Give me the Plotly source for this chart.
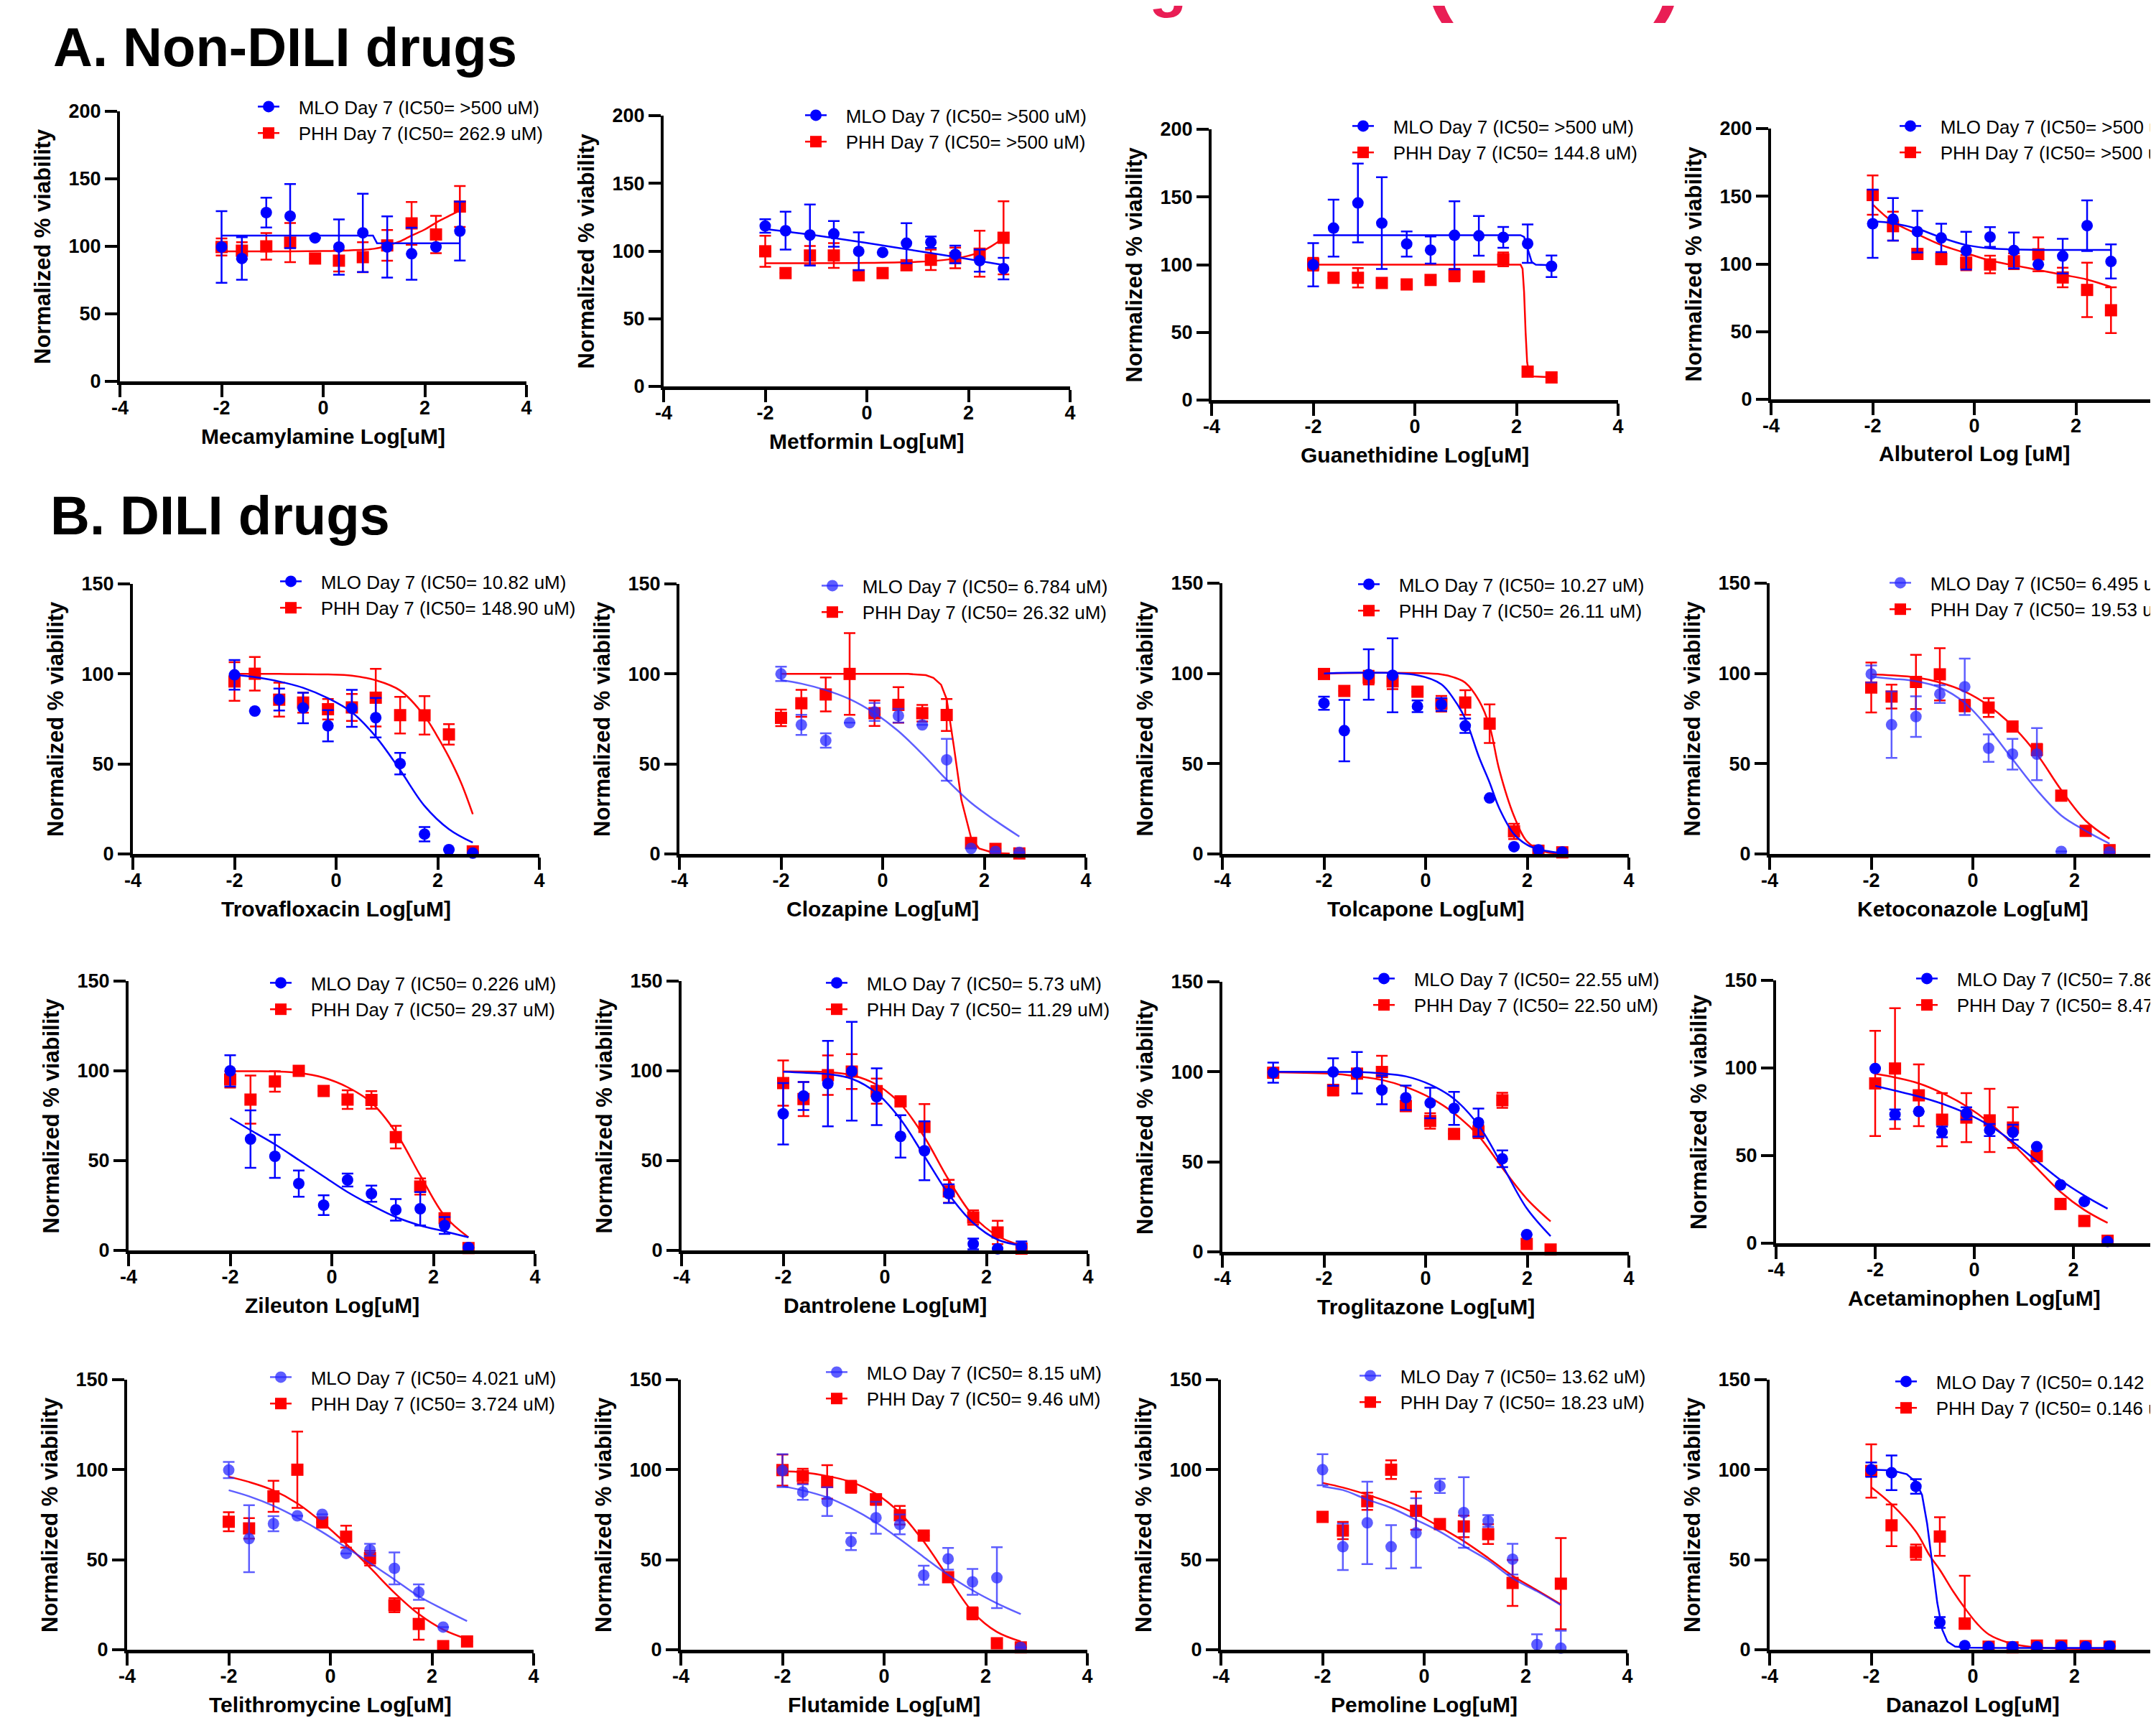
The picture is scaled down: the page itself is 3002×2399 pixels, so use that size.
import plotly.graph_objects as go

W, H = 3002, 2399
BLUE = "rgb(0,0,255)"
BLUE_LIGHT = "rgba(40,40,255,0.75)"
RED = "rgb(255,0,0)"
PINK = "#E91E55"
FONT = "Liberation Sans, Arial, sans-serif"

# ---------------- data ----------------
X_STD = [-2, -1.6, -1.12, -0.65, -0.16, 0.31, 0.78, 1.26, 1.74, 2.22, 2.69]
X_TROG = [-3, -1.82, -1.35, -0.86, -0.39, 0.09, 0.56, 1.04, 1.51, 1.99, 2.46]

DRUG_TITLES = ["Mecamylamine Log[uM]", "Metformin Log[uM]", "Guanethidine Log[uM]", "Albuterol Log [uM]",
               "Trovafloxacin Log[uM]", "Clozapine Log[uM]", "Tolcapone Log[uM]", "Ketoconazole Log[uM]",
               "Zileuton Log[uM]", "Dantrolene Log[uM]", "Troglitazone Log[uM]", "Acetaminophen Log[uM]",
               "Telithromycine Log[uM]", "Flutamide Log[uM]", "Pemoline Log[uM]", "Danazol Log[uM]"]
MLO_IC50 = [">500", ">500", ">500", ">500", "10.82", "6.784", "10.27", "6.495",
            "0.226", "5.73", "22.55", "7.86", "4.021", "8.15", "13.62", "0.142"]
PHH_IC50 = ["262.9", ">500", "144.8", ">500", "148.90", "26.32", "26.11", "19.53",
            "29.37", "11.29", "22.50", "8.47", "3.724", "9.46", "18.23", "0.146"]
Y_MAX = [200, 200, 200, 200] + [150] * 12
Y_TICKS_A = [0, 50, 100, 150, 200]
Y_TICKS_B = [0, 50, 100, 150]
X_TICKS = [-4, -2, 0, 2, 4]
X_TICK_TEXT = ["-4", "-2", "0", "2", "4"]

# A1 Mecamylamine
MECA_MLO = [99.5, 91, 125, 122.4, 106.3, 99.5, 110, 99.5, 94.5, 99.6, 111.3]
MECA_MLO_SD = [26.5, 15.8, 11, 23.7, 0, 20.5, 29, 22.7, 19.3, 0, 21.8]
MECA_PHH = [99.5, 96.8, 100, 102.8, 91, 89.4, 92, 100.7, 117, 108.8, 129.5]
MECA_PHH_SD = [6.3, 6.2, 9.9, 14.5, 0, 8, 11.1, 11.4, 15.8, 13.8, 15.2]
MECA_MLO_FIT_X = [-2, 0.98, 1.06, 2.69]
MECA_MLO_FIT = [108, 108, 102.3, 102.3]
MECA_PHH_FIT_X = [-2, -1, 0, 0.5, 1.0, 1.26, 1.5, 1.74, 2.0, 2.22, 2.45, 2.69]
MECA_PHH_FIT = [96.3, 96.3, 96.5, 97, 98.2, 100.5, 103.5, 108, 112.5, 117.5, 122, 126.5]

# A2 Metformin
METF_MLO = [118.5, 115, 111.8, 112.7, 99.8, 99, 105.8, 106.5, 97.5, 92.9, 87]
METF_MLO_SD = [5, 14, 22.5, 9.5, 14, 0, 14.8, 4.3, 6.5, 8.2, 8]
METF_PHH = [99.8, 83.7, 96.7, 96.7, 82.1, 83.7, 89.5, 93.5, 94.9, 98, 109.8]
METF_PHH_SD = [11.5, 0, 7, 9.2, 0, 0, 2.9, 7.5, 7.6, 17, 27]
METF_MLO_FIT_X = [-2, -1, 0, 1, 2, 2.69]
METF_MLO_FIT = [116.3, 111.5, 106, 100, 94, 89.7]
METF_PHH_FIT_X = [-2, 0, 1, 1.5, 1.74, 2.0, 2.22, 2.45, 2.69]
METF_PHH_FIT = [91, 91.2, 92, 93.3, 94.5, 96.5, 99, 103.5, 109.5]

# A3 Guanethidine
GUAN_MLO = [99.9, 127, 145.6, 130.7, 115.3, 110.8, 121.7, 121.3, 120.2, 115.5, 98.8]
GUAN_MLO_SD = [16, 21, 29.1, 33.9, 9.3, 10, 25.1, 14.7, 7.7, 14.2, 7.9]
GUAN_PHH = [100.3, 90.3, 90.3, 86.5, 85.4, 88.7, 92.3, 91.2, 103.9, 21, 16.7]
GUAN_PHH_SD = [4.7, 0, 7.2, 0, 0, 0, 4.7, 0, 5.1, 0, 0]
GUAN_MLO_FIT_X = [-2, 2.08, 2.15, 2.22, 2.3, 2.38, 2.69]
GUAN_MLO_FIT = [121.8, 121.8, 120.5, 112, 102, 100, 99.6]
GUAN_PHH_FIT_X = [-2, 2.08, 2.12, 2.15, 2.18, 2.21, 2.25, 2.3, 2.69]
GUAN_PHH_FIT = [100, 100, 97, 80, 50, 28, 19.5, 17.5, 16.8]

# A4 Albuterol
ALBU_MLO = [129.7, 133, 123.9, 119.2, 109.8, 119.9, 110, 99.6, 105.8, 128.3, 101.8]
ALBU_MLO_SD = [25.2, 15.7, 15.4, 10.5, 13.9, 7.3, 13.2, 0, 12.8, 18.7, 12.6]
ALBU_PHH = [150.9, 127.9, 107.4, 103.8, 100.9, 99.6, 102, 107.1, 90, 80.8, 65.8]
ALBU_PHH_SD = [14.5, 10.7, 3.5, 4, 5.6, 6.5, 5.8, 12.5, 7.2, 20.1, 16.9]
ALBU_MLO_FIT_X = [-2, -1.6, -1.12, -0.65, -0.16, 0.31, 0.78, 1.26, 2.69]
ALBU_MLO_FIT = [131.5, 130, 126, 119.5, 114, 111.5, 110.7, 110.4, 110.3]
ALBU_PHH_FIT = [144, 131, 122, 114, 108, 102.5, 99, 95.5, 92, 88.5, 83]

# B1 Trovafloxacin
TROV_MLO = [99.5, 79.4, 85.8, 81.1, 71.2, 80.9, 75.7, 50.2, 11, 2.4, 0.5]
TROV_MLO_SD = [8.2, 0, 6.1, 8.5, 8.7, 10.3, 11, 6, 4, 0, 0]
TROV_PHH = [95.8, 100.1, 85.7, 84.1, 80.4, 81.4, 86.8, 77.1, 77, 66.4, 1.4]
TROV_PHH_SD = [10.7, 9.3, 9.4, 5.6, 5.7, 7.5, 16, 10.2, 10.7, 5.7, 0]
TROV_MLO_FIT = [99.5, 98.2, 95.8, 92.3, 86.5, 78.7, 65.2, 46.6, 26.7, 13.8, 6.3]
TROV_PHH_FIT_X = [-2, -1.12, -0.16, 0.31, 0.78, 1.26, 1.74, 1.98, 2.22, 2.46, 2.69]
TROV_PHH_FIT = [100, 100, 99.7, 99, 96.5, 90.8, 76.6, 65.9, 53.8, 39.5, 22.1]

# B2 Clozapine
CLOZ_MLO = [100, 71.7, 63, 72.9, 78.9, 76.8, 71.7, 52.3, 3.1, 1.4, 0.9]
CLOZ_MLO_SD = [4, 5.6, 4, 0, 5, 3.8, 0, 11.6, 0, 0, 0]
CLOZ_PHH = [75.6, 83.7, 88.6, 100, 78.2, 82.8, 78.2, 77.2, 6.1, 2.8, 0.3]
CLOZ_PHH_SD = [4.6, 7.5, 9.4, 22.7, 7.1, 9.9, 4.6, 8.9, 2.4, 0, 0]
CLOZ_MLO_FIT = [96.5, 94.6, 91, 86, 78.2, 68.2, 55.5, 41.2, 28.4, 18.5, 9.7]
CLOZ_PHH_FIT_X = [-2, 0.5, 0.85, 1.0, 1.15, 1.26, 1.4, 1.55, 1.74, 1.9, 2.2, 2.5]
CLOZ_PHH_FIT = [100, 100, 99.3, 97.8, 94, 86, 60, 30, 9, 3, 0.5, 0.2]

# B3 Tolcapone
TOLC_MLO = [83.5, 68.3, 99.4, 99, 81.8, 82.8, 71, 31, 4, 2.3, 1.1]
TOLC_MLO_SD = [3.6, 17, 14, 20.5, 3.2, 3.5, 4, 0, 0, 0, 0]
TOLC_PHH = [99.7, 90.3, 97.7, 95.6, 89.9, 83.2, 83.9, 72.2, 12.5, 1.8, 0.9]
TOLC_PHH_SD = [0, 0, 3.8, 4.3, 0, 4.3, 6.8, 10.7, 4.2, 0, 0]
TOLC_MLO_FIT_X = [-2, -0.16, 0.31, 0.55, 0.78, 1.05, 1.26, 1.45, 1.74, 2.0, 2.22, 2.69]
TOLC_MLO_FIT = [100, 99, 94, 86, 75, 53.7, 39.5, 25.3, 11, 5, 2.6, 0.4]
TOLC_PHH_FIT_X = [-2, 0.31, 0.57, 0.78, 1.05, 1.26, 1.45, 1.74, 2.0, 2.33, 2.69]
TOLC_PHH_FIT = [100, 99.5, 97.7, 94.9, 85, 70.7, 46.6, 21, 6.8, 1.4, 0.3]

# B4 Ketoconazole
KETO_MLO = [99.7, 71.6, 76.1, 88.6, 92.6, 58.6, 55.3, 55.3, 1.4, None, 1.1]
KETO_MLO_SD = [4.7, 18.4, 11.2, 4.9, 15.6, 7.6, 8.5, 14.4, 0, 0, 0]
KETO_PHH = [92.2, 87.2, 95.3, 99.5, 82.2, 81.1, 70.6, 57.8, 32.3, 12.8, 2.1]
KETO_PHH_SD = [13.8, 6.6, 15, 14.5, 3.2, 5.2, 0, 3.2, 0, 0, 2.4]
KETO_MLO_FIT = [98.2, 97.1, 95.7, 92.2, 83.7, 69.5, 52.5, 35.4, 21.3, 12.8, 5.7]
KETO_PHH_FIT = [99.5, 99, 97.8, 95, 90, 82.2, 70.9, 55.3, 35.4, 18.4, 8.5]

# C1 Zileuton
ZILE_MLO = [100, 62, 52.4, 37.2, 25.2, 39.2, 31.6, 22.6, 23.2, 13.9, 1.6]
ZILE_MLO_SD = [8.7, 16, 12, 7.3, 5.5, 3.6, 4.5, 6, 9.3, 4.7, 0]
ZILE_PHH = [95.2, 84, 94.1, 100, 88.8, 84, 83.8, 63.1, 35.6, 17.9, 1.3]
ZILE_PHH_SD = [4.5, 13.4, 5.7, 0, 0, 5.2, 4.9, 6.3, 4.5, 2.7, 0]
ZILE_MLO_FIT = [73.7, 67, 59.1, 50.4, 41.2, 32.5, 25.2, 18.6, 13.9, 10.6, 7.3]
ZILE_PHH_FIT = [99.8, 99.8, 99.7, 98.9, 96.2, 90.9, 82.3, 65.7, 41.8, 19.2, 7.3]

# C2 Dantrolene
DANT_MLO = [76.1, 86, 92.9, 99.8, 85.6, 63.5, 55.5, 31.6, 3.6, 0.9, 2]
DANT_MLO_SD = [17.1, 7.8, 23.8, 27.5, 15.8, 11.8, 16.4, 5.2, 3, 0, 3]
DANT_PHH = [93.2, 84.3, 97.6, 99.6, 88.7, 83, 68.8, 32.9, 18.3, 10, 1]
DANT_PHH_SD = [12.6, 9.5, 11, 9.7, 7, 0, 12.7, 6.4, 4, 6.5, 0]
DANT_MLO_FIT = [99.5, 99, 98.2, 95.6, 87.6, 73, 52.4, 31.2, 15.3, 6, 2.7]
DANT_PHH_FIT = [99.7, 99.6, 99.3, 97.6, 92.3, 81.6, 63.1, 39.2, 19.2, 8, 2.7]

# C3 Troglitazone
TROG_MLO = [99.5, 99.9, 99.5, 89.9, 85.6, 82.7, 79.7, 71.8, 51.7, 9.6, None]
TROG_MLO_SD = [5.6, 7.6, 11.5, 7.9, 6.8, 8.5, 9.2, 7.8, 4.6, 0, 0]
TROG_PHH = [99.5, 89.9, 99, 99.9, 81, 72.7, 65.5, 66.7, 84.2, 4.4, 1.3]
TROG_PHH_SD = [2, 3, 0, 9, 2.8, 4.3, 0, 3.6, 4.2, 0, 0]
TROG_MLO_FIT = [100, 99.9, 99.9, 99.1, 97.5, 92.9, 85, 70.4, 48, 24.2, 8.7]
TROG_PHH_FIT = [99.8, 98.9, 97.5, 95.5, 91.6, 85.6, 77, 64.5, 46.6, 29.5, 16.9]

# C4 Acetaminophen
ACET_MLO = [99.7, 73.5, 75.2, 63.5, 74.1, 64.6, 63.3, 55.1, 33.3, 23.8, 1]
ACET_MLO_SD = [0, 2.8, 0, 3.1, 3.5, 3.4, 4.3, 0, 0, 0, 0]
ACET_PHH = [91.2, 99.7, 84.4, 70.5, 71.7, 70.1, 66, 49.7, 22.4, 12.7, 1.4]
ACET_PHH_SD = [30, 34.4, 17.6, 15.2, 14, 18, 11.6, 0, 0, 0, 0]
ACET_MLO_FIT = [89.8, 87.1, 83.7, 79.6, 74.1, 67.1, 57.8, 46.9, 36.1, 27.2, 19.7]
ACET_PHH_FIT = [96.7, 94.6, 91.2, 85.7, 78.2, 68.7, 56.5, 42.9, 29.3, 19, 11.6]

# D1 Telithromycine
TELI_MLO = [99.8, 61.7, 70, 74.4, 75.2, 53.5, 55.5, 45.2, 32, 12.6, None]
TELI_MLO_SD = [4.5, 18.6, 4.2, 0, 0, 0, 3.3, 8.9, 4.3, 0, 0]
TELI_PHH = [71.1, 67.4, 85.2, 100, 70.7, 62.8, 50.9, 24.7, 14.3, 2, 4.6]
TELI_PHH_SD = [5.3, 5.7, 8.6, 21.2, 0, 6.1, 4.1, 3.9, 8.7, 0, 0]
TELI_MLO_FIT = [88.6, 85.2, 79.9, 73.3, 65.4, 56.8, 48.2, 39, 29.7, 22.5, 15.9]
TELI_PHH_FIT = [96.1, 93.2, 88.5, 81.3, 70.7, 58.8, 45.6, 31.7, 19.8, 11.2, 5.9]

# D2 Flutamide
FLUT_MLO = [99.5, 87.6, 82.3, 60.1, 73.3, 69.6, 41.4, 50.5, 37.7, 40, 1.3]
FLUT_MLO_SD = [9.1, 4.3, 8, 4.7, 8.9, 5.5, 5.3, 6, 7.2, 16.9, 0]
FLUT_PHH = [99.8, 96.5, 93.2, 90.5, 83.5, 74.7, 63.4, 40.3, 20.2, 3.6, 1.3]
FLUT_PHH_SD = [8.6, 4, 9.3, 3.3, 3, 5.2, 0, 0, 3.3, 0, 0]
FLUT_MLO_FIT = [90.8, 88.5, 84.6, 78.6, 70.7, 61.4, 51.5, 41.6, 33, 25.8, 19.8]
FLUT_PHH_FIT = [99.2, 98.5, 96.5, 93.2, 86.6, 76, 60.1, 40.3, 21.1, 9.9, 4.6]

# D3 Pemoline
PEMO_MLO = [100, 57.2, 70.5, 57.2, 64.9, 91, 76.2, 71.5, 50.3, 2.9, 0.9]
PEMO_MLO_SD = [8.6, 12.9, 22.9, 12, 19.3, 3.9, 19.6, 3.3, 8.5, 5.7, 9.7]
PEMO_PHH = [73.8, 66.2, 82.5, 100, 77.2, 69.8, 68.5, 64.2, 37.1, None, 36.7]
PEMO_PHH_SD = [0, 4.8, 4.8, 5.2, 10.6, 0, 6, 5.5, 12.8, 0, 25.3]
PEMO_MLO_FIT = [90.7, 88.7, 83.4, 78.8, 72.2, 65.6, 57.6, 49.7, 39.7, 32.5, 24.8]
PEMO_PHH_FIT = [92.7, 90.1, 86.1, 81.5, 75.5, 68.2, 60.3, 51, 41.1, 33.1, 25.2]

# D4 Danazol
DANA_MLO = [100, 98.3, 90.7, 15.2, 2.3, 1.7, 1.7, 1.7, 1.7, 1.7, 2]
DANA_MLO_SD = [4, 9.6, 4, 3, 0, 0, 0, 0, 0, 0, 0]
DANA_PHH = [99.3, 69.1, 54.2, 62.9, 14.6, 1.7, 1.3, 2.3, 2.3, 2, 1.7]
DANA_PHH_SD = [14.8, 11.6, 4.2, 10.7, 26.5, 0, 0, 0, 0, 0, 0]
DANA_PHH_SD_MINUS = [14.8, 11.6, 4.2, 10.7, 3, 0, 0, 0, 0, 0, 0]
DANA_MLO_FIT_X = [-2, -1.6, -1.3, -1.12, -1.0, -0.9, -0.8, -0.7, -0.6, -0.5, -0.35, -0.16, 0.5, 2.69]
DANA_MLO_FIT = [100, 99.6, 97.5, 93, 86, 70, 48, 26, 11, 4.5, 1.8, 1.2, 1, 1]
DANA_PHH_FIT_X = [-2, -1.6, -1.12, -0.85, -0.65, -0.39, -0.16, 0.08, 0.31, 0.78, 1.26, 2.69]
DANA_PHH_FIT = [90.3, 80.8, 65.6, 52.3, 44.4, 32.5, 23.2, 14.6, 8.6, 3.3, 1.3, 0.4]

# table assembled from the named arrays
PANELS = [
    (X_STD, MECA_MLO, MECA_MLO_SD, MECA_PHH, MECA_PHH_SD, None, MECA_MLO_FIT_X, MECA_MLO_FIT, MECA_PHH_FIT_X, MECA_PHH_FIT),
    (X_STD, METF_MLO, METF_MLO_SD, METF_PHH, METF_PHH_SD, None, METF_MLO_FIT_X, METF_MLO_FIT, METF_PHH_FIT_X, METF_PHH_FIT),
    (X_STD, GUAN_MLO, GUAN_MLO_SD, GUAN_PHH, GUAN_PHH_SD, None, GUAN_MLO_FIT_X, GUAN_MLO_FIT, GUAN_PHH_FIT_X, GUAN_PHH_FIT),
    (X_STD, ALBU_MLO, ALBU_MLO_SD, ALBU_PHH, ALBU_PHH_SD, None, ALBU_MLO_FIT_X, ALBU_MLO_FIT, X_STD, ALBU_PHH_FIT),
    (X_STD, TROV_MLO, TROV_MLO_SD, TROV_PHH, TROV_PHH_SD, None, X_STD, TROV_MLO_FIT, TROV_PHH_FIT_X, TROV_PHH_FIT),
    (X_STD, CLOZ_MLO, CLOZ_MLO_SD, CLOZ_PHH, CLOZ_PHH_SD, None, X_STD, CLOZ_MLO_FIT, CLOZ_PHH_FIT_X, CLOZ_PHH_FIT),
    (X_STD, TOLC_MLO, TOLC_MLO_SD, TOLC_PHH, TOLC_PHH_SD, None, TOLC_MLO_FIT_X, TOLC_MLO_FIT, TOLC_PHH_FIT_X, TOLC_PHH_FIT),
    (X_STD, KETO_MLO, KETO_MLO_SD, KETO_PHH, KETO_PHH_SD, None, X_STD, KETO_MLO_FIT, X_STD, KETO_PHH_FIT),
    (X_STD, ZILE_MLO, ZILE_MLO_SD, ZILE_PHH, ZILE_PHH_SD, None, X_STD, ZILE_MLO_FIT, X_STD, ZILE_PHH_FIT),
    (X_STD, DANT_MLO, DANT_MLO_SD, DANT_PHH, DANT_PHH_SD, None, X_STD, DANT_MLO_FIT, X_STD, DANT_PHH_FIT),
    (X_TROG, TROG_MLO, TROG_MLO_SD, TROG_PHH, TROG_PHH_SD, None, X_TROG, TROG_MLO_FIT, X_TROG, TROG_PHH_FIT),
    (X_STD, ACET_MLO, ACET_MLO_SD, ACET_PHH, ACET_PHH_SD, None, X_STD, ACET_MLO_FIT, X_STD, ACET_PHH_FIT),
    (X_STD, TELI_MLO, TELI_MLO_SD, TELI_PHH, TELI_PHH_SD, None, X_STD, TELI_MLO_FIT, X_STD, TELI_PHH_FIT),
    (X_STD, FLUT_MLO, FLUT_MLO_SD, FLUT_PHH, FLUT_PHH_SD, None, X_STD, FLUT_MLO_FIT, X_STD, FLUT_PHH_FIT),
    (X_STD, PEMO_MLO, PEMO_MLO_SD, PEMO_PHH, PEMO_PHH_SD, None, X_STD, PEMO_MLO_FIT, X_STD, PEMO_PHH_FIT),
    (X_STD, DANA_MLO, DANA_MLO_SD, DANA_PHH, DANA_PHH_SD, DANA_PHH_SD_MINUS, DANA_MLO_FIT_X, DANA_MLO_FIT, DANA_PHH_FIT_X, DANA_PHH_FIT),
]

# ---------------- layout (pixels) ----------------
# (x pixel of -4, pixel width of 8 log units, y pixel of 0, y pixel of top)
BOXES = [
    (159, 566, 523, 147), (916, 566, 530, 153), (1679, 566, 549, 172), (2458, 566, 548, 171),
    (177, 566, 1181, 805), (938, 566, 1181, 805), (1694, 566, 1181, 804), (2456, 566, 1181, 804),
    (171, 566, 1733, 1358), (941, 566, 1733, 1358), (1694, 566, 1735, 1359), (2465, 552, 1723, 1357),
    (169, 566, 2289, 1913), (940, 566, 2289, 1913), (1692, 566, 2289, 1913), (2456, 566, 2289, 1913),
]
# legend symbol start x, first row centre y
LEGEND_POS = [
    (358, 149), (1120, 161), (1882, 176), (2644, 176),
    (389, 810), (1143, 816), (1890, 814), (2630, 812),
    (375, 1369), (1149, 1369), (1911, 1363), (2667, 1363),
    (375, 1918), (1149, 1911), (1892, 1916), (2638, 1924),
]
LIGHT_BLUE_PANELS = {5, 7, 12, 13, 14}
LINEAR_FIT_MLO = {0, 2, 15}
LINEAR_FIT_PHH = {2, 5}
PAD = "\u00a0\u00a0\u00a0"


def nz(v):
    return [None if (e is None or e == 0) else e for e in v]


fig = go.Figure()
layout = dict(
    width=W, height=H, margin=dict(l=0, r=0, t=0, b=0, autoexpand=False),
    paper_bgcolor="white", plot_bgcolor="white", showlegend=True,
    font=dict(family=FONT, color="black"),
)
annotations = []

for i, (xs, mlo, mlo_sd, phh, phh_sd, phh_sdm, mfx, mfy, pfx, pfy) in enumerate(PANELS):
    n = i + 1
    xa = "x" if n == 1 else f"x{n}"
    ya = "y" if n == 1 else f"y{n}"
    lg = "legend" if n == 1 else f"legend{n}"
    left, width, y0, ytop = BOXES[i]
    right = left + width
    xmax = 4.0
    if right > W:
        xmax = -4 + 8 * (W - left) / width
        right = W
    blue = BLUE_LIGHT if i in LIGHT_BLUE_PANELS else BLUE

    # PHH (red) first, MLO (blue) on top
    fig.add_trace(go.Scatter(
        x=pfx, y=pfy, mode="lines", xaxis=xa, yaxis=ya, showlegend=False,
        line=dict(color=RED, width=2.5, shape="linear" if i in LINEAR_FIT_PHH else "spline")))
    ey = dict(type="data", array=nz(phh_sd), color=RED, thickness=2.5, width=8, visible=True)
    if phh_sdm is not None:
        ey["symmetric"] = False
        ey["arrayminus"] = nz(phh_sdm)
    fig.add_trace(go.Scatter(
        x=xs, y=phh, mode="markers", xaxis=xa, yaxis=ya, showlegend=False, cliponaxis=False,
        marker=dict(symbol="square", size=17, color=RED, line=dict(width=0)), error_y=ey))
    fig.add_trace(go.Scatter(
        x=mfx, y=mfy, mode="lines", xaxis=xa, yaxis=ya, showlegend=False,
        line=dict(color=blue, width=2.5, shape="linear" if i in LINEAR_FIT_MLO else "spline")))
    fig.add_trace(go.Scatter(
        x=xs, y=mlo, mode="markers", xaxis=xa, yaxis=ya, showlegend=False, cliponaxis=False,
        marker=dict(symbol="circle", size=16, color=blue, line=dict(width=0)),
        error_y=dict(type="data", array=nz(mlo_sd), color=blue, thickness=2.5, width=8, visible=True)))

    # legend entries
    fig.add_trace(go.Scatter(
        x=[None], y=[None], mode="lines+markers", xaxis=xa, yaxis=ya, legend=lg,
        name=f"{PAD}MLO Day 7 (IC50= {MLO_IC50[i]} uM)",
        marker=dict(symbol="circle", size=16, color=blue), line=dict(color=blue, width=2.5)))
    fig.add_trace(go.Scatter(
        x=[None], y=[None], mode="lines+markers", xaxis=xa, yaxis=ya, legend=lg,
        name=f"{PAD}PHH Day 7 (IC50= {PHH_IC50[i]} uM)",
        marker=dict(symbol="square", size=16, color=RED), line=dict(color=RED, width=2.5)))

    lx, ly = LEGEND_POS[i]
    layout[lg] = dict(
        x=(lx - 12) / W, y=1 - (ly - 32) / H, xanchor="left", yanchor="top",
        bgcolor="rgba(0,0,0,0)", borderwidth=0, tracegroupgap=0,
        font=dict(family=FONT, size=26, color="black"), itemwidth=30)

    axis_common = dict(
        showline=True, linecolor="black", ticks="outside", tickcolor="black",
        ticklen=17, tickwidth=4, showgrid=False, zeroline=False,
        tickfont=dict(family=FONT, size=27, color="black", weight="bold"))
    layout["xaxis" if n == 1 else f"xaxis{n}"] = dict(
        domain=[left / W, right / W], range=[-4, xmax], anchor=ya,
        tickvals=X_TICKS, ticktext=X_TICK_TEXT, ticklabelstandoff=-8, linewidth=4.5, **axis_common)
    layout["yaxis" if n == 1 else f"yaxis{n}"] = dict(
        domain=[1 - y0 / H, 1 - ytop / H], range=[0, Y_MAX[i]], anchor=xa,
        tickvals=Y_TICKS_A if Y_MAX[i] == 200 else Y_TICKS_B, linewidth=4, **axis_common)

    annotations.append(dict(
        text=DRUG_TITLES[i], x=(left + width / 2) / W, y=1 - (y0 + 76) / H,
        xref="paper", yref="paper", xanchor="center", yanchor="middle", showarrow=False,
        font=dict(family=FONT, size=30, color="black", weight="bold")))
    annotations.append(dict(
        text="Normalized % viability", x=(left - 108) / W, y=1 - ((y0 + ytop) / 2) / H,
        xref="paper", yref="paper", xanchor="center", yanchor="middle", showarrow=False,
        textangle=-90, font=dict(family=FONT, size=31, color="black", weight="bold")))

# section headers
annotations.append(dict(text="A. Non-DILI drugs", x=64 / W, y=1 - 58 / H, xref="paper", yref="paper",
                        xanchor="left", yanchor="middle", showarrow=False,
                        font=dict(family=FONT, size=76, color="black", weight="bold")))
annotations.append(dict(text="B. DILI drugs", x=60 / W, y=1 - 709 / H, xref="paper", yref="paper",
                        xanchor="left", yanchor="middle", showarrow=False,
                        font=dict(family=FONT, size=76, color="black", weight="bold")))
# bottoms of a slide title cut off by the page edge
for txt, px, py, size, anchor in [("g", 1647, 19, 86, "right"), ("(", 1974, 26, 120, "left"),
                                  (")", 2292, 26, 120, "left")]:
    annotations.append(dict(text=txt, x=px / W, y=1 - py / H, xref="paper", yref="paper",
                            xanchor=anchor, yanchor="bottom", showarrow=False,
                            font=dict(family=FONT, size=size, color=PINK, weight="bold")))

layout["annotations"] = annotations
fig.update_layout(**layout)
fig.write_html("out.html")
